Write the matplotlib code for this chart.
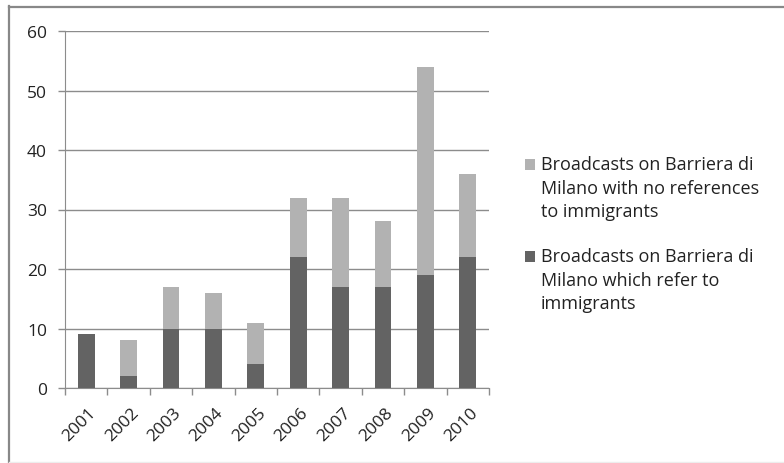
import matplotlib.pyplot as plt
import matplotlib.patches as patches
import matplotlib.transforms as mtransforms
import numpy as np

years = ['2001', '2002', '2003', '2004', '2005', '2006', '2007', '2008', '2009', '2010']
refer = [9, 2, 10, 10, 4, 22, 17, 17, 19, 22]
no_refer = [0, 6, 7, 6, 7, 10, 15, 11, 35, 14]

label_no = 'Broadcasts on Barriera di\nMilano with no references\nto immigrants'
label_yes = 'Broadcasts on Barriera di\nMilano which refer to\nimmigrants'

dark = '#636363'
light = '#b2b2b2'
W, H = 784, 464

plt.rcParams['font.family'] = ['Open Sans', 'DejaVu Sans']

fig = plt.figure(figsize=(W / 100, H / 100), dpi=100)
ax = fig.add_axes([65 / W, 75 / H, 424 / W, 357 / H])

x = np.arange(len(years))
b1 = ax.bar(x, refer, width=0.4, color=dark, zorder=3)
b2 = ax.bar(x, no_refer, width=0.4, bottom=refer, color=light, zorder=3)

ax.set_xlim(-0.5, len(years) - 0.5)
ax.set_ylim(0, 60)
ax.set_yticks(range(0, 61, 10))
ax.yaxis.grid(True, color='#8c8c8c', linewidth=1, zorder=0)
ax.tick_params(axis='y', length=5, width=1, color='#8c8c8c', labelsize=12.5, pad=8, labelcolor='#222222')

# category ticks sit on the boundaries between bars
ax.set_xticks(np.arange(len(years) + 1) - 0.5)
ax.set_xticklabels([])
ax.set_xticks(x, minor=True)
ax.set_xticklabels(years, minor=True, rotation=45, ha='right', va='top',
                   rotation_mode='anchor', fontsize=12.5, color='#222222')
ax.tick_params(axis='x', which='major', length=5, width=1, color='#8c8c8c')
ax.tick_params(axis='x', which='minor', length=0, pad=12)
shift = mtransforms.ScaledTranslation(2 / 100, 0, fig.dpi_scale_trans)
for lbl in ax.get_xticklabels(minor=True):
    lbl.set_transform(lbl.get_transform() + shift)

for side in ['top', 'right']:
    ax.spines[side].set_visible(False)
ax.spines['left'].set_color('#8c8c8c')
ax.spines['bottom'].set_color('#8c8c8c')

# legend: square swatch beside the first line of each wrapped label
for (label, color), top in zip([(label_no, light), (label_yes, dark)], [156, 248]):
    fig.add_artist(patches.Rectangle((525 / W, 1 - (top + 15) / H), 10 / W, 11 / H,
                                     facecolor=color, edgecolor='none',
                                     transform=fig.transFigure))
    fig.text(541 / W, 1 - top / H, label, ha='left', va='top', fontsize=13,
             linespacing=1.4, color='#222222')

# outer chart frame
fig.add_artist(plt.Line2D([8.5 / W, 8.5 / W], [1 - 7 / H, 1 / H],
                          color='#888888', linewidth=1.6, transform=fig.transFigure))
fig.add_artist(plt.Line2D([8.5 / W, 1], [1 - 7.5 / H, 1 - 7.5 / H],
                          color='#888888', linewidth=1.6, transform=fig.transFigure))
fig.add_artist(plt.Line2D([8.5 / W, 1], [1 / H, 1 / H],
                          color='#ededed', linewidth=1, transform=fig.transFigure))

fig.savefig('out.png', dpi=100)
